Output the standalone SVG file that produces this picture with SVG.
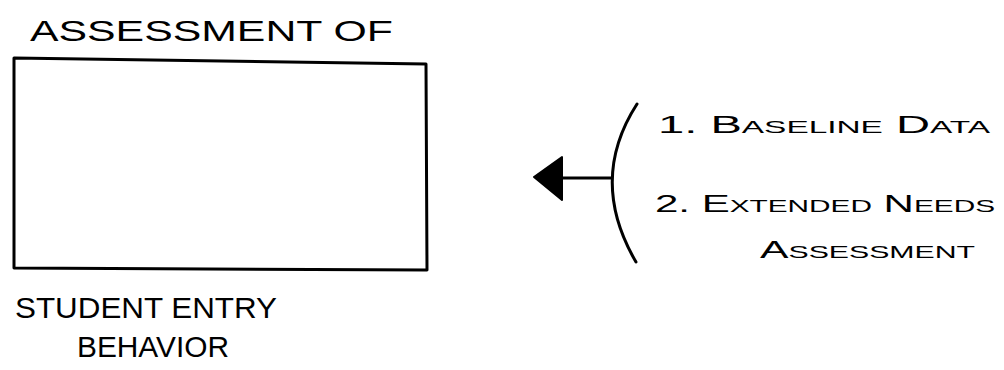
<svg xmlns="http://www.w3.org/2000/svg" width="1004" height="370" viewBox="0 0 1004 370">
<style>
.t{font-family:"Liberation Sans",Arial,sans-serif;fill:#000;font-size:30px}
.s{font-family:"Liberation Sans",Arial,sans-serif;fill:#000;font-size:24px;font-variant:small-caps}
.ln{fill:none;stroke:#000;stroke-width:3;stroke-linecap:round;stroke-linejoin:round}
</style>
<rect width="1004" height="370" fill="#fff"/>
<g id="assessment">
<text class="t" x="30" y="41" textLength="363" lengthAdjust="spacingAndGlyphs">ASSESSMENT OF</text>
<path class="ln" d="M14 58 L426 64 L427 270 L14 268 Z"/>
<text class="t" x="15" y="318" textLength="262" lengthAdjust="spacingAndGlyphs">STUDENT ENTRY</text>
<text class="t" x="77" y="357" textLength="152" lengthAdjust="spacingAndGlyphs">BEHAVIOR</text>
</g>
<g id="inputs">
<path class="ln" d="M637 104 Q588 180 636 262"/>
<text class="s" x="658" y="133" textLength="332" lengthAdjust="spacingAndGlyphs">1. Baseline Data</text>
<text class="s" x="655" y="212" textLength="340" lengthAdjust="spacingAndGlyphs">2. Extended Needs</text>
<text class="s" x="760" y="258" textLength="215" lengthAdjust="spacingAndGlyphs">Assessment</text>
</g>
<g id="connectors">
<path class="ln" d="M560 178 L611 178"/>
<path d="M534 177 L562 157 L562 200 Z" fill="#000" stroke="#000" stroke-width="2" stroke-linejoin="round"/>
</g>
</svg>
